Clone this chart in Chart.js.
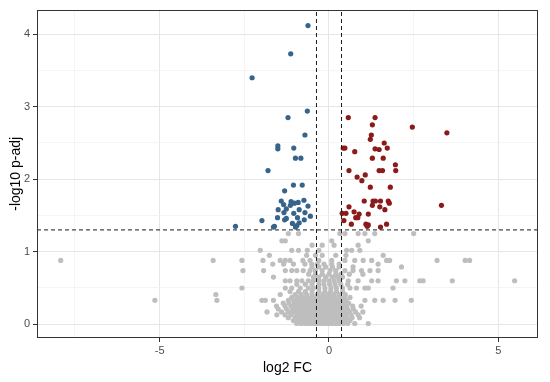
<!DOCTYPE html>
<html>
<head>
<meta charset="utf-8">
<script src="https://cdn.jsdelivr.net/npm/chart.js@4.4.0/dist/chart.umd.min.js"></script>
<style>
  html, body { margin: 0; padding: 0; background: #fff; }
  #wrap { width: 550px; height: 382px; }
</style>
</head>
<body>
<div id="wrap"><canvas id="volcano"></canvas></div>
<script>
// axis range + ticks (log2 FC / -log10 p-adj)
const xRange = [-8.62, 6.17];
const yRange = [-0.19, 4.34];
const xTicks = [-7.5, -5, -2.5, 0, 2.5, 5];
const yTicks = [0, 0.5, 1, 1.5, 2, 2.5, 3, 3.5, 4];

// cut-offs
const fcCuts = [-0.37, 0.37];
const padjCut = 1.301;

// significant down (blue)
const downPts = [
  [-0.62, 4.12], [-1.13, 3.73], [-2.27, 3.40], [-0.64, 2.94], [-1.21, 2.85],
  [-0.71, 2.61], [-1.51, 2.46], [-1.51, 2.42], [-1.04, 2.43], [-0.99, 2.29],
  [-0.83, 2.29], [-1.80, 2.12], [-1.05, 1.92], [-0.79, 1.92], [-1.31, 1.84],
  [-1.41, 1.70], [-1.34, 1.65], [-1.12, 1.69], [-0.91, 1.68], [-0.74, 1.71],
  [-1.14, 1.64], [-1.02, 1.67], [-0.62, 1.63], [-1.50, 1.58], [-1.26, 1.59],
  [-0.88, 1.58], [-1.33, 1.54], [-1.04, 1.53], [-0.71, 1.54], [-0.55, 1.49],
  [-1.52, 1.47], [-1.26, 1.46], [-1.31, 1.44], [-0.93, 1.47], [-0.73, 1.44],
  [-1.98, 1.43], [-1.08, 1.39], [-0.95, 1.36], [-0.88, 1.40], [-1.61, 1.35],
  [-2.76, 1.35], [-0.99, 1.34], [-1.64, 1.34]
];

// significant up (red)
const upPts = [
  [0.57, 2.85], [1.36, 2.85], [1.28, 2.75], [2.46, 2.72], [3.48, 2.64],
  [1.25, 2.61], [1.22, 2.55], [1.63, 2.50], [0.42, 2.43], [0.47, 2.43],
  [1.36, 2.42], [1.48, 2.41], [1.72, 2.43], [0.76, 2.38], [1.28, 2.29],
  [1.60, 2.29], [1.96, 2.20], [0.59, 2.12], [1.48, 2.12], [1.58, 2.12],
  [1.97, 2.12], [0.83, 2.03], [1.07, 2.06], [0.97, 1.98], [1.22, 1.89],
  [1.81, 1.89], [3.32, 1.64], [1.04, 1.70], [1.30, 1.70], [1.37, 1.70],
  [1.52, 1.70], [1.75, 1.70], [1.78, 1.67], [1.28, 1.64], [1.50, 1.62],
  [0.59, 1.62], [1.65, 1.58], [0.39, 1.53], [0.50, 1.53], [0.74, 1.55],
  [0.89, 1.52], [1.16, 1.52], [0.79, 1.47], [0.85, 1.47], [0.44, 1.43],
  [0.66, 1.38], [1.09, 1.38], [1.16, 1.37], [1.13, 1.35], [1.70, 1.38],
  [1.52, 1.34]
];

// not significant (grey), read row by row: [-log10 p-adj, [log2 FC ...]]
const nsRows = [
  [0.01, [-0.95, -0.82, -0.7, -0.6, -0.5, -0.4, -0.3, -0.2, -0.1, 0, 0.1, 0.2, 0.3, 0.42, 0.55, 0.76, 1.16]],
  [0.05, [-1.05, -0.9, -0.78, -0.66, -0.55, -0.45, -0.35, -0.25, -0.15, -0.05, 0.05, 0.15, 0.25, 0.35, 0.48, 0.62]],
  [0.09, [-1.2, -1.0, -0.88, -0.75, -0.62, -0.5, -0.4, -0.3, -0.2, -0.1, 0, 0.1, 0.2, 0.3, 0.4, 0.52, 0.68, 0.9]],
  [0.13, [-1.54, -1.3, -1.12, -0.95, -0.82, -0.7, -0.58, -0.46, -0.35, -0.25, -0.15, -0.05, 0.05, 0.15, 0.26, 0.38, 0.5, 0.65, 0.86]],
  [0.17, [-1.83, -1.4, -1.2, -1.05, -0.9, -0.76, -0.64, -0.52, -0.4, -0.3, -0.2, -0.1, 0, 0.1, 0.2, 0.32, 0.45, 0.6, 0.78, 1.0]],
  [0.21, [-1.5, -1.25, -1.08, -0.94, -0.8, -0.68, -0.56, -0.45, -0.34, -0.24, -0.14, -0.04, 0.06, 0.16, 0.28, 0.4, 0.55, 0.72]],
  [0.25, [-1.55, -1.3, -1.12, -0.98, -0.84, -0.7, -0.58, -0.46, -0.35, -0.24, -0.12, 0, 0.12, 0.25, 0.38, 0.52, 0.7, 0.95]],
  [0.29, [-1.35, -1.18, -1.02, -0.88, -0.74, -0.6, -0.48, -0.36, -0.24, -0.12, 0, 0.14, 0.28, 0.42, 0.58]],
  [0.33, [-5.14, -3.31, -1.98, -1.88, -1.64, -1.2, -1.04, -0.9, -0.76, -0.62, -0.48, -0.34, -0.2, -0.06, 0.08, 0.22, 0.36, 0.5, 1.06, 1.35, 1.6, 1.95, 2.43]],
  [0.37, [-1.1, -0.94, -0.8, -0.66, -0.52, -0.38, -0.24, -0.1, 0.04, 0.18, 0.32, 0.46, 0.62]],
  [0.41, [-3.34, -1.44, -1.0, -0.82, -0.66, -0.5, -0.34, -0.18, -0.02, 0.14, 0.3, 0.48]],
  [0.45, [-1.15, -0.9, -0.7, -0.5, -0.3, -0.12, 0.05, 0.22, 0.4]],
  [0.50, [-2.57, -1.29, -1.1, -0.85, -0.61, -0.46, -0.3, -0.12, 0.06, 0.22, 0.4, 0.62, 0.81, 1.06, 1.16, 1.89]],
  [0.55, [-0.95, -0.7, -0.5, -0.3, -0.15, 0.02, 0.18, 0.35, 0.55]],
  [0.60, [-1.29, -1.15, -0.95, -0.8, -0.61, -0.46, -0.3, -0.15, 0, 0.15, 0.3, 0.57, 0.86, 1.26, 1.45, 1.99, 2.24, 2.68, 2.78, 3.64, 5.48]],
  [0.65, [-1.64, -0.46, -0.3, -0.1, 0.1, 0.25, 0.4]],
  [0.69, [-0.6, -0.4, -0.2, 0, 0.2, 0.35, 0.6, 1.0]],
  [0.74, [-2.54, -1.93, -1.29, -1.10, -0.95, -0.76, -0.56, -0.4, -0.2, 0.03, 0.2, 0.47, 0.71, 0.96, 1.21, 1.45]],
  [0.79, [-0.5, -0.3, -0.1, 0.1, 0.3, 0.71, 2.14]],
  [0.83, [-1.66, -1.34, -1.05, -0.71, -0.51, -0.35, -0.15, 0.08, 0.3, 1.45]],
  [0.88, [-7.92, -3.42, -2.57, -1.95, -1.44, -1.29, -1.15, -0.77, -0.56, -0.3, 0.08, 0.47, 0.76, 1.01, 1.26, 1.7, 1.79, 3.19, 4.02, 4.15]],
  [0.95, [-1.76, -0.66, -0.4, -0.2, 0.2, 0.5, 1.6]],
  [1.02, [-2.03, -1.10, -0.9, -0.64, -0.3, 0.52, 0.67, 0.91]],
  [1.09, [-0.5, -0.2, 0.15, 0.86]],
  [1.15, [-1.39, -1.29, 0.08, 1.16]],
  [1.25, [-1.20, -0.90, 0.32, 0.47, 0.86, 1.06, 1.35, 2.50]]
];

const GREY = '#BEBEBE';
const BLUE = '#36648B';
const RED = '#8B1A1A';

function toXY(list) {
  return list.map(p => ({ x: p[0], y: p[1] }));
}

let nsPts = [];
for (let row of nsRows) {
  for (let fc of row[1]) {
    nsPts.push({ x: fc, y: row[0] });
  }
}

function isMajor(v) {
  return Number.isInteger(v);
}

const panelBorder = {
  id: 'panelBorder',
  afterDatasetsDraw(chart) {
    const a = chart.chartArea;
    const c = chart.ctx;
    c.save();
    c.strokeStyle = '#333';
    c.lineWidth = 1;
    c.strokeRect(Math.round(a.left) + 0.5, Math.round(a.top) + 0.5, Math.round(a.right - a.left) - 1, Math.round(a.bottom - a.top) - 1);
    c.restore();
  }
};

let cutSets = [];
fcCuts.forEach(v => {
  cutSets.push({
    data: [{ x: v, y: yRange[0] }, { x: v, y: yRange[1] }],
    showLine: true, pointRadius: 0, borderColor: '#1a1a1a', borderWidth: 1,
    borderDash: [4, 3], order: 0
  });
});
cutSets.push({
  data: [{ x: xRange[0], y: padjCut }, { x: xRange[1], y: padjCut }],
  showLine: true, pointRadius: 0, borderColor: '#1a1a1a', borderWidth: 1,
  borderDash: [4, 3], order: 0
});

const tickFont = { family: "'Liberation Sans', Arial, sans-serif", size: 11 };
const titleFont = { family: "'Liberation Sans', Arial, sans-serif", size: 14 };

new Chart(document.getElementById('volcano'), {
  type: 'scatter',
  data: {
    datasets: [
      { data: nsPts, backgroundColor: GREY, pointRadius: 2.6, borderWidth: 0, order: 3 },
      { data: toXY(downPts), backgroundColor: BLUE, pointRadius: 2.6, borderWidth: 0, order: 2 },
      { data: toXY(upPts), backgroundColor: RED, pointRadius: 2.6, borderWidth: 0, order: 1 },
      ...cutSets
    ]
  },
  options: {
    responsive: true,
    maintainAspectRatio: false,
    animation: false,
    layout: { padding: { top: 8, right: 12, left: 0, bottom: 0 } },
    plugins: { legend: { display: false }, tooltip: { enabled: false } },
    scales: {
      x: {
        type: 'linear',
        min: xRange[0], max: xRange[1],
        afterBuildTicks: s => { s.ticks = xTicks.map(v => ({ value: v })); },
        afterFit: s => { s.height = 44; },
        ticks: {
          callback: v => (v % 5 === 0 ? String(v) : ''),
          color: '#4D4D4D', font: tickFont, padding: 2, maxRotation: 0, autoSkip: false
        },
        grid: {
          color: c => (c.tick && c.tick.value % 5 === 0 ? '#E6E6E6' : '#F0F0F0'),
          lineWidth: c => (c.tick && c.tick.value % 5 === 0 ? 1 : 0.7),
          tickColor: c => (c.tick && c.tick.value % 5 === 0 ? '#333' : 'rgba(0,0,0,0)'),
          tickLength: 4
        },
        border: { display: false },
        title: { display: true, text: 'log2 FC', color: '#000', font: titleFont, padding: { top: 0, bottom: 5 } }
      },
      y: {
        type: 'linear',
        min: yRange[0], max: yRange[1],
        afterBuildTicks: s => { s.ticks = yTicks.map(v => ({ value: v })); },
        afterFit: s => { s.width = 37; },
        ticks: {
          callback: v => (isMajor(v) ? String(v) : ''),
          color: '#4D4D4D', font: tickFont, padding: 3, autoSkip: false
        },
        grid: {
          color: c => (c.tick && isMajor(c.tick.value) ? '#E6E6E6' : '#F0F0F0'),
          lineWidth: c => (c.tick && isMajor(c.tick.value) ? 1 : 0.7),
          tickColor: c => (c.tick && isMajor(c.tick.value) ? '#333' : 'rgba(0,0,0,0)'),
          tickLength: 4
        },
        border: { display: false },
        title: { display: true, text: '-log10 p-adj', color: '#000', font: titleFont, padding: { top: 8, bottom: 0 } }
      }
    }
  },
  plugins: [panelBorder]
});
</script>
</body>
</html>
